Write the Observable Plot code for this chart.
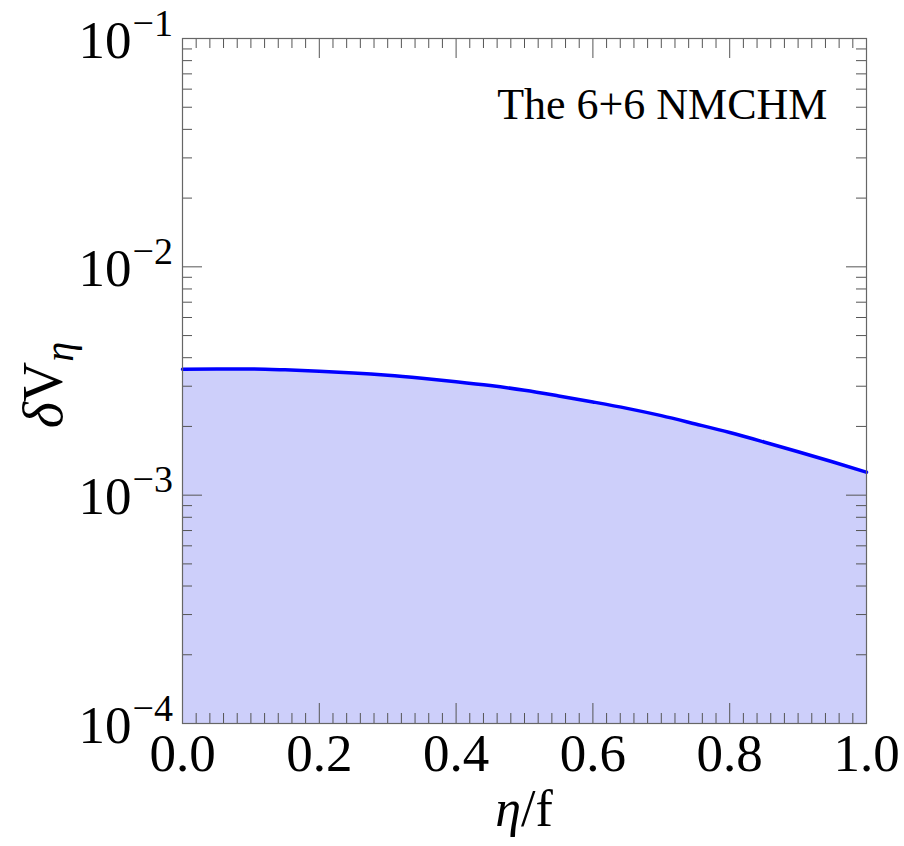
<!DOCTYPE html>
<html><head><meta charset="utf-8">
<script src="https://cdn.jsdelivr.net/npm/d3@7"></script>
<script src="https://cdn.jsdelivr.net/npm/@observablehq/plot@0.6"></script>
<style>body{margin:0;background:#fff} #chart svg{display:block}</style>
</head><body><div id="chart"></div>
<script>
// Data
const etaOverF = [0,0.05,0.1,0.15,0.2,0.25,0.3,0.35,0.4,0.45,0.5,0.55,0.6,0.65,0.7,0.75,0.8,0.85,0.9,0.95,1.0];
const deltaV = [3.56e-3,3.57e-3,3.57e-3,3.54e-3,3.49e-3,3.43e-3,3.35e-3,3.25e-3,3.14e-3,3.02e-3,2.88e-3,2.72e-3,2.56e-3,2.40e-3,2.23e-3,2.05e-3,1.88e-3,1.71e-3,1.55e-3,1.40e-3,1.26e-3];
const xTickValues = [0,0.2,0.4,0.6,0.8,1.0];
const xTickLabels = ["0.0","0.2","0.4","0.6","0.8","1.0"];
const yDecades = [1e-4,1e-3,1e-2,1e-1];
const yExponents = ["\u22124","\u22123","\u22122","\u22121"];
const annotation = "The 6+6 NMCHM";

const data = etaOverF.map((x,i)=>({x, v: deltaV[i]}));

const W = 904, H = 846;
const mL = 182, mR = 38, mT = 38, mB = 123;
const pw = W - mL - mR, ph = H - mT - mB;

const xMinor = d3.range(0, 1.0001, 0.02).filter(t => Math.abs(t*5 - Math.round(t*5)) > 1e-6);
const yMinor = [];
for (const d of [1e-4,1e-3,1e-2]) for (let k=2;k<=9;k++) yMinor.push(d*k);

const font = "'Liberation Serif','Times New Roman',serif";
const tickColor = "#555";
const majorLen = 20, minorLen = 10;

const svg = Plot.plot({
  width: W, height: H,
  marginLeft: mL, marginRight: mR, marginTop: mT, marginBottom: mB,
  style: {fontFamily: font, background: "#fff", color: "#000"},
  x: {domain: [0, 1], axis: null},
  y: {type: "log", domain: [1e-4, 1e-1], axis: null},
  marks: [
    Plot.areaY(data, {x: "x", y1: 1e-4, y2: "v", fill: "#cdcffa", curve: "monotone-x"}),
    Plot.lineY(data, {x: "x", y: "v", stroke: "#0000ff", strokeWidth: 3.5, curve: "monotone-x"}),
    // x ticks bottom & top
    Plot.tickX(xTickValues, {x: d=>d, stroke: tickColor, insetTop: ph - majorLen}),
    Plot.tickX(xTickValues, {x: d=>d, stroke: tickColor, insetBottom: ph - majorLen}),
    Plot.tickX(xMinor, {x: d=>d, stroke: tickColor, insetTop: ph - minorLen}),
    Plot.tickX(xMinor, {x: d=>d, stroke: tickColor, insetBottom: ph - minorLen}),
    // y ticks left & right
    Plot.tickY(yDecades, {y: d=>d, stroke: tickColor, insetRight: pw - majorLen}),
    Plot.tickY(yDecades, {y: d=>d, stroke: tickColor, insetLeft: pw - majorLen}),
    Plot.tickY(yMinor, {y: d=>d, stroke: tickColor, insetRight: pw - minorLen}),
    Plot.tickY(yMinor, {y: d=>d, stroke: tickColor, insetLeft: pw - minorLen}),
    Plot.frame({stroke: "#666", strokeWidth: 1.2}),
    // x tick labels
    Plot.text(xTickValues, {x: d=>d, frameAnchor: "bottom", lineAnchor: "bottom", dy: 47,
      text: (d,i)=>xTickLabels[i], fontSize: 53, fontFamily: font}),
    // y tick labels: base and exponent
    Plot.text(yDecades, {y: d=>d, frameAnchor: "left", textAnchor: "end", lineAnchor: "bottom",
      dx: -51, dy: 19, text: ()=>"10", fontSize: 53, fontFamily: font}),
    Plot.text(yDecades, {y: d=>d, frameAnchor: "left", textAnchor: "start", lineAnchor: "bottom",
      dx: -50, dy: -3, text: (d,i)=>yExponents[i], fontSize: 38, fontFamily: font}),
    // annotation
    Plot.text([annotation], {frameAnchor: "top-right", textAnchor: "end", lineAnchor: "bottom",
      dx: -39, dy: 80, text: d=>d, fontSize: 44, fontFamily: font})
  ]
});

const s = d3.select(svg);
// x axis label
const xl = s.append("text").attr("x", mL + pw/2).attr("y", 826)
  .attr("text-anchor", "middle").attr("font-size", 52).attr("font-family", font).attr("fill", "#000");
xl.append("tspan").attr("font-style", "italic").text("\u03b7");
xl.append("tspan").text("/f");
// y axis label
const yl = s.append("text").attr("transform", "translate(62,385) rotate(-90)")
  .attr("text-anchor", "middle").attr("font-size", 56).attr("font-family", font).attr("fill", "#000");
yl.append("tspan").attr("font-style", "italic").text("\u03b4");
yl.append("tspan").text("V");
yl.append("tspan").attr("font-style", "italic").attr("font-size", 40).attr("dy", "0.28em").text("\u03b7");

document.getElementById("chart").appendChild(svg);
</script>
</body></html>
